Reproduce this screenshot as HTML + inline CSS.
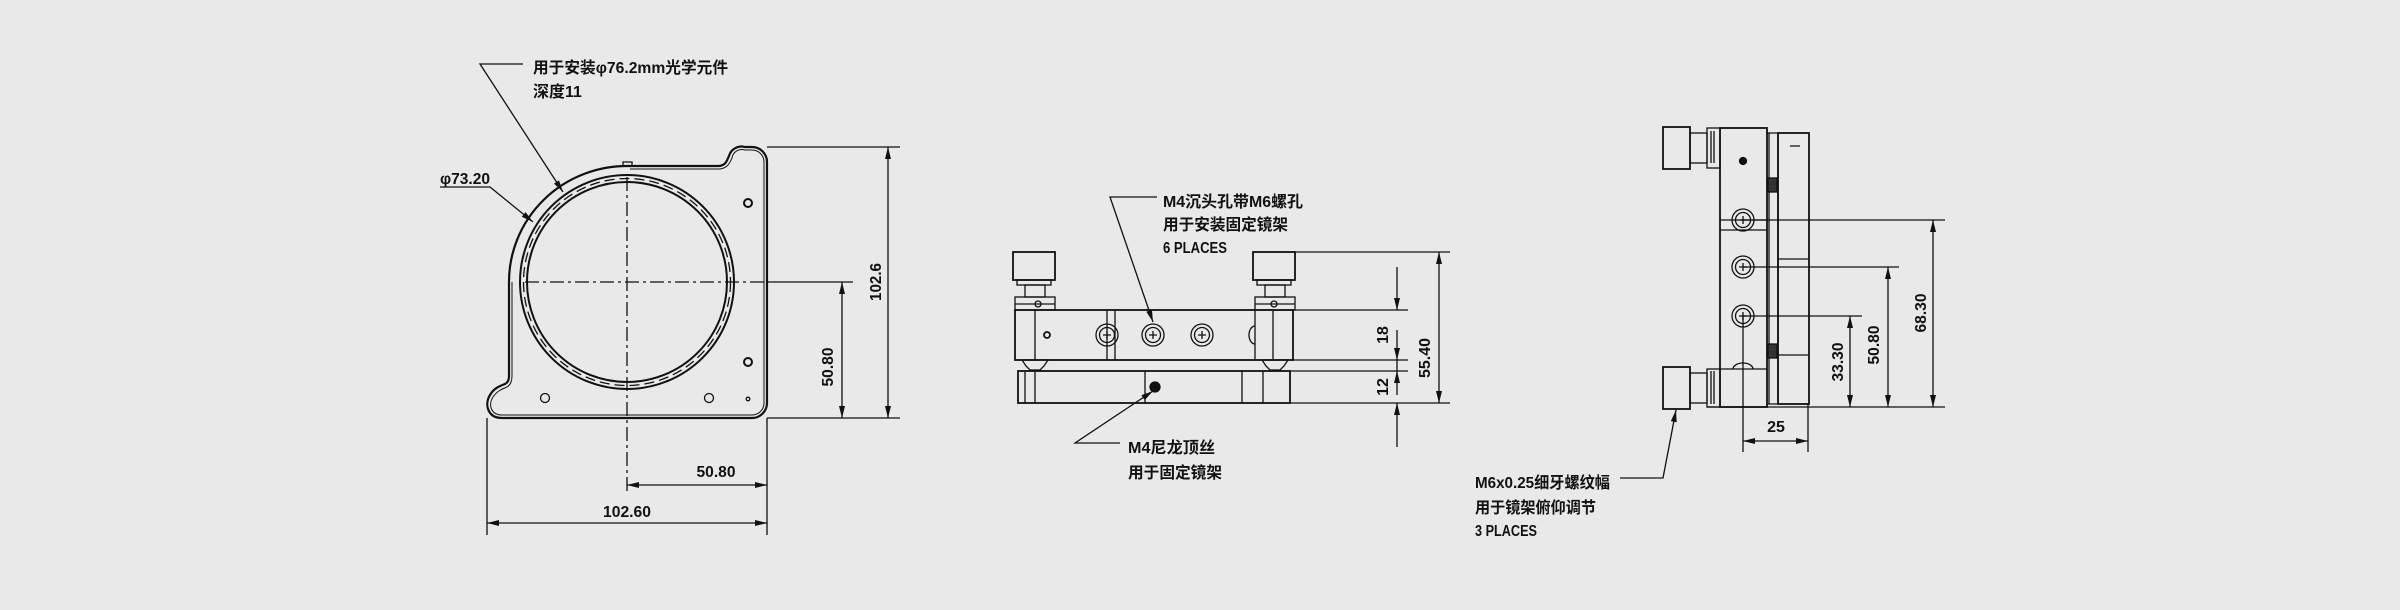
<!DOCTYPE html>
<html><head><meta charset="utf-8"><style>
html,body{margin:0;padding:0;background:#e9e9e9}
svg{display:block}
text{font-family:"Liberation Sans","Noto Sans CJK SC",sans-serif;font-weight:bold;fill:#111}
</style></head><body>
<svg width="2400" height="610" viewBox="0 0 2400 610" xmlns="http://www.w3.org/2000/svg">
<defs>
<marker id="a" viewBox="0 0 12 6" refX="12" refY="3" markerWidth="12" markerHeight="6" orient="auto-start-reverse" markerUnits="userSpaceOnUse"><path d="M0 0 L12 3 L0 6 Z" fill="#111"/></marker>
</defs>
<rect width="2400" height="610" fill="#e9e9e9"/>
<g fill="none" stroke="#111" stroke-width="1.3">
<!-- VIEW 1 -->
<path d="M627 166 L718 166 C726 166 727 160 729 156 A13 13 0 0 1 745 147 L752 147 A15 15 0 0 1 767 162 L767 403 A15 15 0 0 1 752 418 L502 418 C488 418 484 405 490 395 C494 388 500 386 505 384 Q509 382 509 376 L509 282 A118 116 0 0 1 627 166 Z" stroke-width="2.2"/>
<path d="M630 169 L718 169 C728 169 730 162 732 158 A10 10 0 0 1 745 150 L752 150 A12 12 0 0 1 764 162 L764 403 A12 12 0 0 1 752 415 L502 415 C491 415 488 405 493 397 C497 391 502 389 507 387 Q512 384 512 376 L512 282" stroke-width="1"/>
<circle cx="627" cy="282" r="107" stroke-width="2"/>
<circle cx="627" cy="282" r="103.5" stroke-dasharray="10 5"/>
<circle cx="627" cy="282" r="100" stroke-width="2"/>
<path d="M623 166 L623 162 L632 162 L632 166"/>
<circle cx="748" cy="203" r="4" stroke-width="2"/>
<circle cx="748" cy="362" r="4" stroke-width="2"/>
<circle cx="545" cy="398" r="4.5"/>
<circle cx="709" cy="398" r="4.5"/>
<circle cx="748" cy="399" r="1.8"/>
<path d="M627 177 L627 495" stroke-dasharray="14 4 3 4"/>
<path d="M525 282 L767 282" stroke-dasharray="14 4 3 4"/>
<path d="M767 282 L853 282"/>
<!-- leaders -->
<path d="M523 64 L480 64 L563 192" marker-end="url(#a)"/>
<path d="M440 187 L490 187 L533 222" marker-end="url(#a)"/>
<!-- dims -->
<path d="M767 147 L900 147 M767 418 L900 418"/>
<path d="M888 147 L888 418" marker-start="url(#a)" marker-end="url(#a)"/>
<path d="M842 282 L842 418" marker-start="url(#a)" marker-end="url(#a)"/>
<path d="M487 418 L487 535 M767 418 L767 535"/>
<path d="M627 485 L767 485" marker-start="url(#a)" marker-end="url(#a)"/>
<path d="M487 523 L767 523" marker-start="url(#a)" marker-end="url(#a)"/>

<!-- VIEW 2 -->
<rect x="1013" y="252" width="42" height="28" stroke-width="1.8"/>
<rect x="1017" y="280" width="34" height="5"/>
<rect x="1025" y="285" width="20" height="12"/>
<rect x="1015" y="297" width="40" height="13"/>
<path d="M1015 304 L1055 304"/>
<circle cx="1038" cy="304" r="3"/>
<rect x="1253" y="252" width="42" height="28" stroke-width="1.8"/>
<rect x="1257" y="280" width="34" height="5"/>
<rect x="1265" y="285" width="20" height="12"/>
<rect x="1255" y="297" width="40" height="13"/>
<path d="M1255 304 L1295 304"/>
<circle cx="1274" cy="304" r="3"/>
<rect x="1015" y="310" width="278" height="50" stroke-width="1.8"/>
<path d="M1035 310 L1035 360 M1255 310 L1255 360 M1273 310 L1273 360 M1107 310 L1107 360 M1115 310 L1115 360"/>
<path d="M1255 326 A6 9 0 0 0 1255 344"/>
<circle cx="1047" cy="335" r="3" stroke-width="1.8"/>
<g>
<circle cx="1107" cy="335" r="11"/><circle cx="1107" cy="335" r="7.5"/><path d="M1103 335 H1111 M1107 331 V339"/>
<circle cx="1153" cy="335" r="11"/><circle cx="1153" cy="335" r="7.5"/><path d="M1149 335 H1157 M1153 331 V339"/>
<circle cx="1202" cy="335" r="11"/><circle cx="1202" cy="335" r="7.5"/><path d="M1198 335 H1206 M1202 331 V339"/>
</g>
<path d="M1022 360 L1048 360 L1044 366 L1040 370 L1030 370 L1026 366 Z"/>
<path d="M1262 360 L1288 360 L1284 366 L1280 370 L1270 370 L1266 366 Z"/>
<rect x="1018" y="371" width="272" height="32" stroke-width="1.8"/>
<path d="M1025 371 L1025 403 M1035 371 L1035 403 M1145 371 L1145 403 M1242 371 L1242 403 M1263 371 L1263 403"/>
<circle cx="1155" cy="387" r="5" fill="#111"/>
<path d="M1157 197 L1110 197 L1153 322" marker-end="url(#a)"/>
<path d="M1120 443 L1075 443 L1153 391" marker-end="url(#a)"/>
<path d="M1295 252 L1450 252 M1293 310 L1408 310 M1293 360 L1408 360 M1290 371 L1408 371 M1290 403 L1450 403"/>
<path d="M1397 267 L1397 310" marker-end="url(#a)"/>
<path d="M1397 360 L1397 330" marker-start="url(#a)"/>
<path d="M1397 360 L1397 371"/>
<path d="M1397 371 L1397 395" marker-start="url(#a)"/>
<path d="M1397 447 L1397 403" marker-end="url(#a)"/>
<path d="M1439 252 L1439 403" marker-start="url(#a)" marker-end="url(#a)"/>

<!-- VIEW 3 -->
<rect x="1663" y="127" width="27" height="42" stroke-width="1.8"/>
<rect x="1690" y="133" width="17" height="30"/>
<rect x="1707" y="128" width="13" height="40"/>
<path d="M1711 131 L1711 163 M1714 131 L1714 163"/>
<rect x="1663" y="367" width="27" height="42" stroke-width="1.8"/>
<rect x="1690" y="373" width="17" height="30"/>
<rect x="1707" y="369" width="13" height="38"/>
<path d="M1711 371 L1711 404 M1714 371 L1714 404"/>
<rect x="1720" y="128" width="47" height="279" stroke-width="1.8"/>
<path d="M1720 220 L1767 220 M1720 230 L1767 230 M1720 369 L1767 369"/>
<path d="M1733 369 A10 6 0 0 1 1753 369"/>
<circle cx="1743" cy="161" r="3.5" fill="#111"/>
<path d="M1767 133 L1778 133 L1778 404 L1767 404 M1769 133 L1769 404"/>
<rect x="1778" y="133" width="31" height="271" stroke-width="1.8"/>
<path d="M1778 259 L1809 259 M1778 355 L1809 355 M1790 146 L1800 146"/>
<rect x="1768" y="178" width="9" height="14" fill="#333"/>
<rect x="1768" y="344" width="9" height="14" fill="#333"/>
<g>
<circle cx="1743" cy="220" r="11"/><circle cx="1743" cy="220" r="7.5"/><path d="M1739 220 H1747 M1743 216 V224"/>
<circle cx="1743" cy="267" r="11"/><circle cx="1743" cy="267" r="7.5"/><path d="M1739 267 H1747 M1743 263 V271"/>
<circle cx="1743" cy="316" r="11"/><circle cx="1743" cy="316" r="7.5"/><path d="M1739 316 H1747 M1743 312 V320"/>
</g>
<path d="M1707 407 L1945 407 M1743 220 L1945 220 M1743 267 L1899 267 M1743 316 L1862 316"/>
<path d="M1933 220 L1933 407" marker-start="url(#a)" marker-end="url(#a)"/>
<path d="M1888 267 L1888 407" marker-start="url(#a)" marker-end="url(#a)"/>
<path d="M1850 316 L1850 407" marker-start="url(#a)" marker-end="url(#a)"/>
<path d="M1743 316 L1743 452 M1808 404 L1808 452"/>
<path d="M1743 441 L1808 441" marker-start="url(#a)" marker-end="url(#a)"/>
<path d="M1620 478 L1663 478 L1676 410" marker-end="url(#a)"/>
</g>

<!-- TEXT -->
<g font-size="16">
<text x="533" y="73" textLength="195" lengthAdjust="spacingAndGlyphs">用于安装φ76.2mm光学元件</text>
<text x="533" y="97">深度11</text>
<text x="440" y="184" textLength="50" lengthAdjust="spacingAndGlyphs">φ73.20</text>
<text x="716" y="493" text-anchor="middle" textLength="39" lengthAdjust="spacingAndGlyphs" transform="translate(0,-16)">50.80</text>
<text x="627" y="517" text-anchor="middle" textLength="48" lengthAdjust="spacingAndGlyphs">102.60</text>
<text transform="translate(881,282) rotate(-90)" text-anchor="middle" textLength="38" lengthAdjust="spacingAndGlyphs">102.6</text>
<text transform="translate(833,367) rotate(-90)" text-anchor="middle" textLength="39" lengthAdjust="spacingAndGlyphs">50.80</text>

<text x="1163" y="207" textLength="140" lengthAdjust="spacingAndGlyphs">M4沉头孔带M6螺孔</text>
<text x="1163" y="230" textLength="125" lengthAdjust="spacingAndGlyphs">用于安装固定镜架</text>
<text x="1163" y="253" textLength="64" lengthAdjust="spacingAndGlyphs">6 PLACES</text>
<text x="1128" y="453" textLength="87" lengthAdjust="spacingAndGlyphs">M4尼龙顶丝</text>
<text x="1128" y="478" textLength="94" lengthAdjust="spacingAndGlyphs">用于固定镜架</text>
<text transform="translate(1388,335) rotate(-90)" text-anchor="middle">18</text>
<text transform="translate(1388,387) rotate(-90)" text-anchor="middle">12</text>
<text transform="translate(1430,358) rotate(-90)" text-anchor="middle" textLength="40" lengthAdjust="spacingAndGlyphs">55.40</text>

<text x="1475" y="488" textLength="135" lengthAdjust="spacingAndGlyphs">M6x0.25细牙螺纹幅</text>
<text x="1475" y="513" textLength="121" lengthAdjust="spacingAndGlyphs">用于镜架俯仰调节</text>
<text x="1475" y="536" textLength="62" lengthAdjust="spacingAndGlyphs">3 PLACES</text>
<text x="1776" y="432" text-anchor="middle">25</text>
<text transform="translate(1926,313) rotate(-90)" text-anchor="middle" textLength="39" lengthAdjust="spacingAndGlyphs">68.30</text>
<text transform="translate(1879,345) rotate(-90)" text-anchor="middle" textLength="39" lengthAdjust="spacingAndGlyphs">50.80</text>
<text transform="translate(1843,362) rotate(-90)" text-anchor="middle" textLength="39" lengthAdjust="spacingAndGlyphs">33.30</text>
</g>
</svg>
</body></html>
